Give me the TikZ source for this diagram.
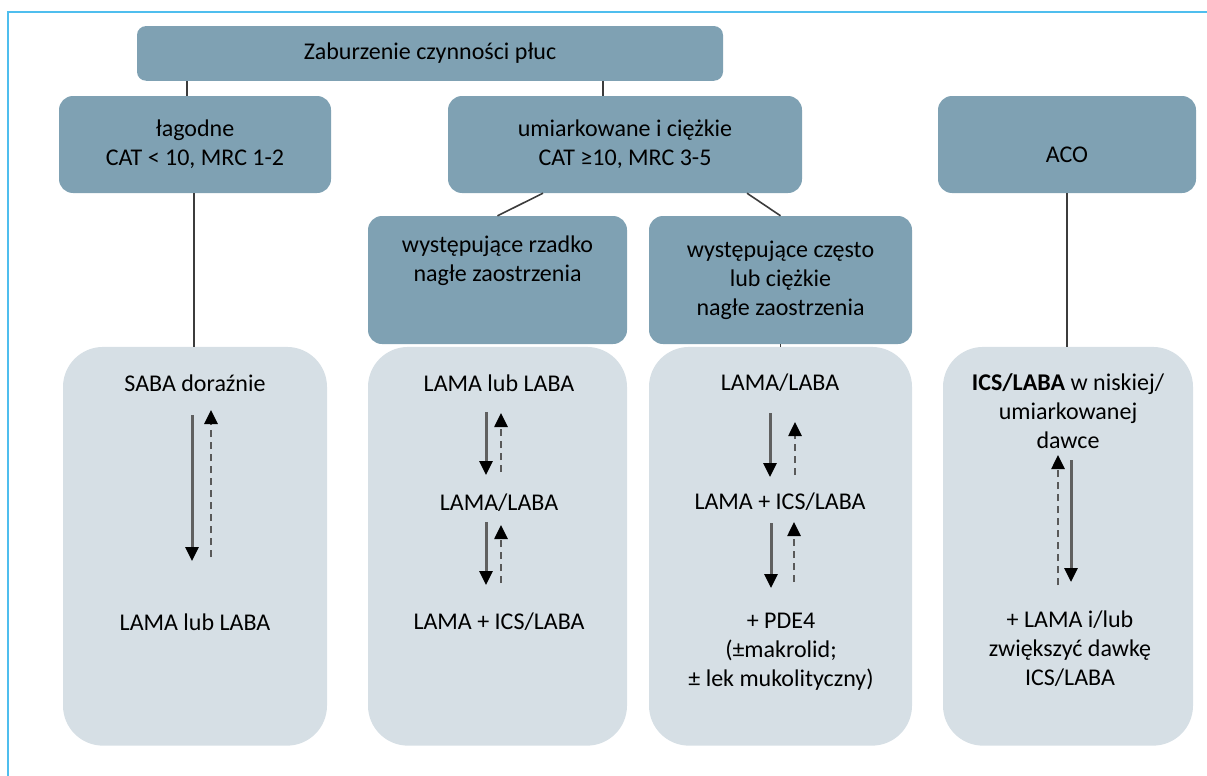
\documentclass[tikz,border=0pt]{standalone}
\usepackage{fontspec}
\setmainfont{Carlito}
\usetikzlibrary{arrows.meta}
\definecolor{boxdark}{HTML}{7FA1B3}
\definecolor{boxlight}{HTML}{D6DFE5}
\definecolor{frameblue}{HTML}{4FBEEE}
\definecolor{linegray}{HTML}{3C3C3C}

\begin{document}
\begin{tikzpicture}[x=1pt, y=-1pt,
  font=\fontsize{24pt}{29pt}\selectfont,
  hd/.style={fill=boxdark, rounded corners=14pt, inner sep=0pt, align=center},
  bx/.style={fill=boxlight, rounded corners=40pt, inner sep=0pt, minimum height=398.7pt},
  tx/.style={inner sep=0pt, align=center},
  ln/.style={draw=linegray, line width=1.6pt},
  dnarr/.style={draw=gray!75!black, line width=3pt, -{Triangle[length=14pt, width=13pt, color=black]}},
  uparr/.style={draw=gray!70!black, line width=2.6pt, dash pattern=on 7pt off 5pt, -{Triangle[length=14pt, width=13pt, color=black]}}
]
\useasboundingbox (0,0) rectangle (1207,776);
\draw[frameblue, line width=2pt] (8,776) -- (8,12) -- (1207,12);

\node[hd, rounded corners=9pt, minimum width=586pt, minimum height=54.7pt] (z) at (430,53.4) {Zaburzenie czynności płuc};
\node[hd, minimum width=272pt, minimum height=97pt] (lag) at (195,144.5) {łagodne\\CAT < 10, MRC 1-2};
\node[hd, minimum width=354pt, minimum height=97pt] (umi) at (625,144.5) {umiarkowane i ciężkie\\CAT ≥10, MRC 3-5};
\node[hd, minimum width=258pt, minimum height=97pt] (aco) at (1067,144.5) {};
\node[tx] (acot) at (1067,155) {ACO};
\node[hd, minimum width=259pt, minimum height=128pt] (rz) at (497.5,280) {};
\node[tx] (rzt) at (497.5,261) {występujące rzadko\\nagłe zaostrzenia};
\node[hd, minimum width=263pt, minimum height=128pt] (cz) at (780.5,280) {występujące często\\lub ciężkie\\nagłe zaostrzenia};

\node[bx, minimum width=264pt] (b1) at (195,546.3) {};
\node[bx, minimum width=259pt] (b2) at (497.5,546.3) {};
\node[bx, minimum width=263pt] (b3) at (780.5,546.3) {};
\node[bx, minimum width=250pt] (b4) at (1068,546.3) {};

\draw[ln] (187,0 |- z.south) -- (187,0 |- lag.north);
\draw[ln] (603,0 |- z.south) -- (603,0 |- umi.north);
\draw[ln] (194,0 |- lag.south) -- (194,0 |- b1.north);
\draw[ln] (543,0 |- umi.south) -- (rz.north);
\draw[ln] (747,0 |- umi.south) -- (cz.north);
\draw[ln] (cz.south) -- (b3.north);
\draw[ln] (aco.south) -- (aco.south |- b4.north);

\node[tx] (s1) at (195,383) {SABA doraźnie};
\node[tx] (s2) at (195,622) {LAMA lub LABA};
\node[tx] (m1) at (499,383) {LAMA lub LABA};
\node[tx] (m2) at (499,503) {LAMA/LABA};
\node[tx] (m3) at (499,622) {LAMA + ICS/LABA};
\node[tx] (c1) at (780,383) {LAMA/LABA};
\node[tx] (c2) at (780,502) {LAMA + ICS/LABA};
\node[tx] (c3) at (781,652) {+ PDE4\\(±makrolid;\\± lek mukolityczny)};
\node[tx] (a1) at (1068,411) {\textbf{ICS/LABA} w niskiej/\\umiarkowanej\\dawce};
\node[tx] (a2) at (1070,649) {+ LAMA i/lub\\zwiększyć dawkę\\ICS/LABA};

\draw[dnarr] (192,415) -- (192,561);
\draw[uparr] (211,557) -- (211,410);
\draw[dnarr] (486,412) -- (486,475);
\draw[uparr] (501,472) -- (501,413);
\draw[dnarr] (486,522) -- (486,585);
\draw[uparr] (501,583) -- (501,525);
\draw[dnarr] (770,413) -- (770,477);
\draw[uparr] (795,475) -- (795,422);
\draw[dnarr] (771,523) -- (771,588);
\draw[uparr] (794,582) -- (794,522);
\draw[uparr] (1058,585) -- (1058,455);
\draw[dnarr] (1071,460) -- (1071,582);
\end{tikzpicture}
\end{document}
